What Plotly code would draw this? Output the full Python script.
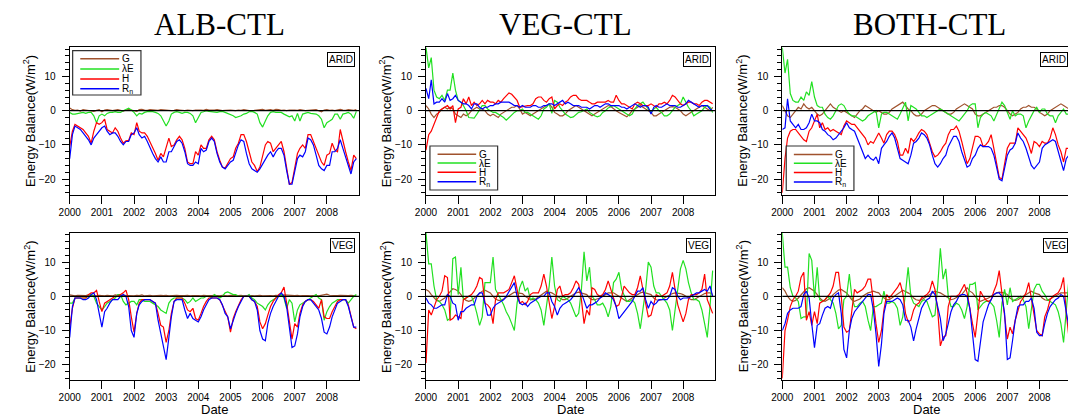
import pandas as pd
import plotly.graph_objects as go

W, H = 1068, 417

dates = pd.date_range("2000-01-01", periods=108, freq="MS")
years = list(range(2000, 2009))
year_labels = [str(y) for y in years]
col_titles = ["ALB-CTL", "VEG-CTL", "BOTH-CTL"]
row_labels = ["ARID", "VEG"]
series_names = ["G", "λE", "H", "R<sub>n</sub>"]
series_colors = ["#A0522D", "#22E022", "#FF0000", "#0000FF"]
y_ticks = [-20, -10, 0, 10]

# ---------------- ALB-CTL, ARID ----------------
alb_arid_G = [0.8, 0.3, 0.1, 0.2, -0.1, 0.3, 0.2, 0.1, 0.0, -0.2, 0.1, 0.3,
              -0.3, 0.2, 0.3, 0.1, 0.0, 0.2, 0.3, 0.1, -0.1, 0.2, 0.4, 0.2,
              0.0, -0.2, 0.3, 0.4, 0.2, 0.1, 0.3, 0.2, 0.0, 0.1, 0.3, 0.2,
              0.1, 0.2, 0.0, 0.1, 0.3, 0.2, 0.1, 0.0, 0.2, 0.1, 0.0, 0.2,
              0.3, 0.2, 0.1, 0.4, 0.2, 0.1, 0.2, 0.3, 0.1, 0.0, 0.1, 0.2,
              0.2, 0.1, 0.0, 0.2, 0.1, 0.3, 0.2, 0.0, -0.1, 0.1, 0.2, 0.3,
              0.4, 0.1, 0.2, 0.3, 0.1, 0.4, 0.3, 0.1, 0.2, 0.0, 0.2, 0.3,
              0.2, 0.1, 0.3, 0.2, 0.0, 0.1, 0.2, 0.1, 0.3, 0.0, -0.3, 0.2,
              0.3, 0.1, 0.2, 0.0, 0.2, 0.4, 0.2, 0.1, 0.3, 0.2, 0.1, 0.3]
alb_arid_LE = [-0.5, -1.0, -1.0, -0.8, -0.5, -0.5, -0.8, -0.5, -0.5, -1.5, -3.5, -1.5,
               -1.0, -1.5, -0.8, -0.5, -0.5, -0.3, -0.5, -0.5, 0.0, 0.3, 0.7, 0.2,
               -0.5, -1.5, -0.8, -1.0, -0.5, -0.3, -0.2, -0.3, -0.5, -0.8, -1.5, -3.0,
               -4.5, -3.0, -1.0, -0.5, -0.3, -0.5, -0.8, -0.5, -0.5, -0.8, -1.5, -3.5,
               -2.0, -0.5, -0.3, 0.0, -0.2, -0.3, -0.3, -0.5, -0.3, -0.2, -0.5, -0.8,
               -1.0, -1.5, -2.0, -1.8, -1.5, -1.0, -0.8, -0.3, -0.2, -0.5, -1.0, -3.5,
               -4.8, -3.0, -1.5, -0.5, -0.3, -0.5, -0.5, -0.5, -1.0, -1.5, -1.8, -1.5,
               -3.0, -0.8, -3.0, -1.0, -0.8, -0.5, -0.8, -1.0, -1.0, -1.5, -2.5, -5.0,
               -3.5, -3.0, -2.5, -1.0, -1.0, -2.5, -1.0, -0.8, -0.5, -1.0, -2.2, -0.2]
alb_arid_H = [-10.5, -6, -4, -4.5, -5, -5.5, -6.5, -7.5, -9.5, -6, -3.5, -4,
              -3.5, -2.5, -5.5, -6, -6.5, -5, -6, -8, -9.5, -8.8, -8.7, -6.5,
              -7, -3.5, -6, -6.5, -6.5, -7.5, -9, -11, -12.5, -14.5, -12.5, -13.5,
              -11, -8, -10.5, -10, -8.5, -7.5, -8.5, -11, -15, -15.5, -15.5, -12,
              -13, -10, -11, -11, -8.5, -7.5, -8.5, -12, -14.5, -16.5, -16.8, -15.5,
              -14, -13.5, -11, -9.5, -7, -7, -9, -12, -15, -16, -17.8, -16.5,
              -13, -10, -9, -9.5, -12, -11, -10, -9, -12, -17, -21.5, -21,
              -17, -12.5, -11, -10, -11, -7, -7, -9, -11, -13, -15, -16,
              -13, -12.5, -9.5, -11.5, -12, -5.5, -9, -12, -15, -17.5, -13, -14]
alb_arid_Rn = [-14, -7, -4.5, -5, -5.5, -6.5, -7.5, -8.5, -10, -8, -7, -6,
               -5, -4.5, -6, -7, -6.5, -6.5, -7.5, -9, -10, -9, -9, -7,
               -6.5, -5, -7, -8, -7.5, -9, -11, -12.5, -14, -15, -13.5, -15,
               -15, -12, -12, -10.5, -9, -8.5, -9.5, -12, -15.5, -16, -16, -15,
               -15.5, -11, -12, -11.5, -9, -8, -9, -12.5, -15, -16.5, -17, -16,
               -15, -14.5, -12, -10, -8.5, -9, -12.5, -15.5, -17, -17.5, -18, -17,
               -15.5, -14, -13, -12, -13.5, -12, -11, -11, -13, -17.5, -21.5, -21.5,
               -18, -14, -13, -13.5, -12, -8, -8.5, -10, -13, -16, -17, -17.5,
               -16, -16, -12, -12, -11, -8.5, -11, -13.5, -16, -18.5, -15, -14]

# ---------------- VEG-CTL, ARID ----------------
veg_arid_G = [1.5, 0.5, -1, -2, -1, -0.5, 0.5, 1, 0.5, 1, 0.5, -1,
              -1.5, -2, -1, -1.5, -1, 0, 0.5, 1, 0.5, 0.5, 0, -1,
              -1.5, -1, -1.5, -2, -1, -0.5, 0, 0.5, 1, 1, 1.5, 0.5,
              -1, -0.5, -1, -1.5, -1, -0.5, 0, 0.5, 1, 1.5, 2, 1,
              -0.5, -1, -1.5, -1.5, -1, 0, 0.5, 1, 1.5, 1, 0.5, 0,
              -0.5, -1, -1.5, -1, -0.5, 0, 0.5, 1, 1.5, 1.2, 0.5, 0,
              -0.5, -1, -1.5, -1.8, -1, 0, 0.5, 1, 1.5, 1, 0.5, 0,
              -0.5, -1.5, -1.5, -1, -0.5, 0, 0.5, 1, 1.2, 1, 0.5, 0,
              -1, -1.5, -1, -0.5, 0, 0.5, 1, 1.5, 1, 0.5, 0, 1]
veg_arid_LE = [18.5, 12.5, 15.5, 6, 4, 3.5, 4.5, 3, 6, 6, 11, 6,
               3, 2.5, 1.5, 0, -2, -2, -2.2, -1, 0.5, 1.5, 1.5, 0.5,
               0, -0.5, -0.5, -1, -1.5, -2, -2.8, -2, -1, -0.5, 0, 0,
               0.5, -0.5, -0.5, -1, -1.5, -2, -2.5, -1.5, 0.5, 1, 2, -0.8,
               3, 2.5, 1, 0, -1, -1.5, -2, -1.8, -1.2, -0.5, -0.3, 0,
               0.5, -0.5, -1, -1.5, -1.8, -1.5, -0.5, 0, 0.8, 1.2, 1.5, 1,
               0.5, 0, -0.5, -1, -1.5, -1, 0.5, 1.5, 2, 2.5, 1.5, 0.5,
               -0.5, 0.5, 1, 0, -0.5, -1.5, -1.5, -1, 0, 1, 1.5, 2,
               4, 2.5, 1, 0, -1.5, -1, -0.5, 0, 1, 1.5, 1, -0.5]
veg_arid_H = [-11.5, -7, -6, -4, -1.5, 0, 0.5, 1, 1.5, 0.5, 1.5, -3.5,
              0.5, 1, 3.5, 2, 4, 1.5, 2.5, 1.5, 2, 3, 2, 3,
              2.5, 2.5, 2, 3, 2.5, 3.5, 4.5, 5.2, 4.8, 4, 3, 1,
              1.2, 1.5, 1.5, 1.5, 2, 3.5, 4, 4, 3, 2.5, 3.5, 4,
              0.5, 1.5, 2, 1.5, 2.5, 3, 4, 4.5, 4.5, 3.5, 3, 3,
              3, 2.5, 2, 2, 2.5, 2.5, 2.5, 2.5, 3, 2.5, 2.5, 4.5,
              3, 2, 2, 1.5, 1, 0.5, 2, 2.5, 2, 1.5, 1.5, 1.5,
              2, 1.5, 1, 2, 2, 2.5, 2, 3, 4.5, 4, 3, 2,
              1.5, 2, 2.5, 2.5, 2, 2, 1.5, 2.5, 3, 3, 2.5, 2]
veg_arid_Rn = [6.5, 3.5, 9, 2, 2.5, 2.5, 3.5, 2.5, 5, 3, 3.5, 4.5,
               3, 2.5, 2, 2, 1.5, 0.5, 2, 2, 1, 0.5, 1, 1,
               1.5, 1.5, 2, 2, 2.5, 2.5, 2.5, 2.5, 2, 1.5, 1.5, 1,
               1.5, 1, 1, 1, 1.5, 1.5, 1, 1, 1.5, 1.5, 2, 2,
               1.5, 2, 2.5, 3, 2, 2.5, 2, 1.5, 1.5, 1.5, 1, 1,
               1, 0.5, 1, 1.5, 1.5, 1, 1.5, 2, 2, 1.5, 1.5, 1.5,
               1.5, 1, 1, 0.5, 1, 1.5, 2, 1.5, 1, 1.5, 1.5, 1,
               -1, 1, 1.5, 1, 1, 1.5, 2, 1.5, 1.5, 1.5, 1, 1,
               1.5, 2, 3, 2.5, 2, 1.5, 1, 1.5, 1.5, 1.5, 0.5, 0]

# ---------------- BOTH-CTL, ARID ----------------
both_arid_G = [1.5, 0, -1.5, -2, -1, 0, 1, 0.5, 2, 1, 0.5, 1,
               0, -1, -1.5, -1, 0, 1, 2, 1, 0.5, 0, -0.5, 0,
               -0.5, -1, -1.5, -2, -1, 0, 0.5, 1.5, 1, 0.5, 0, -0.5,
               0, -0.5, -1, -1, -0.5, 0.5, 1, 1.5, 2, 2.5, 1.5, 0.5,
               0, -1, -1.5, -1.5, -1, 0, 0.5, 1, 1.5, 1.5, 1, 0.5,
               0, -0.5, -1, -1, -0.5, 0.5, 1, 1.5, 2, 1.5, 1, 0.5,
               -1, -1.5, -1.5, -1, -0.5, 0, 0.5, 1, 1, 1.5, 1.5, 1,
               0, -1, -1.5, -1, -0.5, 0.5, 1, 1, 1.5, 1, 1, 0.5,
               -0.5, -1, -1.5, -1, 0, 0.5, 1, 1.5, 2, 1.5, 1, 0.5]
both_arid_LE = [18.5, 11, 15, 5, 3, 2.5, 2.5, 4, 3, 5.5, 4.5, 8.5,
                4, 1.5, 1, 1, -1, -2, -2.5, -1.5, 0, 1.5, 2, 1.5,
                0, -1, -1.5, -1.5, -2, -2.5, -3, -2.5, -1.5, -1, -0.5, 0,
                -5, -1, -0.5, -0.5, -1, -1.5, -2, -2.5, -1, 0.5, 2.5, -3,
                1.5, 1, 0.5, -0.5, -1.5, -1.5, -2, -1.5, -1, -0.5, 0, 0.5,
                0, -0.5, -1, -1.5, -2, -2.5, -3, -2, -1, 0, 1.5, 2,
                2, -5, -2, -1, -0.5, -1, -1.5, -3, -1, 1, 2.5, 1.5,
                -0.5, -2.5, 0, -1.5, -1, -1, -1.5, -5, -3, -1.5, 0, 1,
                -0.5, 0.5, 0.5, -1, -1.5, -1.5, -3.5, -1.5, -0.5, 0.5, -1, -1]
both_arid_H = [-24, -14, -8, -6, -5.5, -5.5, -6.5, -7.5, -8.5, -9, -6, -5,
               -3, -1, -5, -3.5, -5.5, -5, -6, -5.5, -6, -6.5, -7, -4.5,
               -3, -3.5, -4, -4, -5, -6, -7, -8, -10, -9, -9.5, -8,
               -6.5, -8, -9.5, -7, -6, -6, -7, -9, -13, -13, -11, -12.5,
               -8, -9, -8, -6.5, -5.5, -6, -7, -9.5, -12, -13.5, -13, -12,
               -10.5, -9.5, -7, -5.5, -5.5, -4.5, -6, -9, -12.5, -15.5, -14, -11,
               -7.5, -7.5, -8, -10.5, -10, -9, -7, -11, -15, -19.5, -20, -16,
               -11, -9.5, -9.5, -9.5, -5, -6, -7, -8, -10, -12.5, -9, -9.5,
               -10.5, -9, -9.5, -9.5, -8, -5, -7, -10, -12, -15, -11, -11]
both_arid_Rn = [-5.5, -5, 3.5, -3, -4, -5, -4, -5.5, -5.5, -5, -3.5, -1,
                -3, -3, -3.5, -5.5, -6, -7, -7.5, -8.5, -8, -7, -6, -5,
                -3.5, -5, -5.5, -6, -8, -10, -12, -14, -13, -14, -14.5, -13.5,
                -15.5, -11, -10, -9, -7.5, -6.5, -8, -11, -14, -14.5, -15, -15.5,
                -13, -9.5, -9, -8, -6.5, -7, -8, -10, -13, -15.5, -16.5, -15.5,
                -14, -13, -10.5, -9, -7.5, -7.5, -9, -12, -14.5, -16.5, -16, -14,
                -13, -11, -10, -10.5, -10.5, -10.5, -11, -13, -16.5, -20, -20.5, -17,
                -13, -11.5, -11, -9.5, -6.5, -8, -9, -11, -13.5, -16, -17, -16,
                -15, -11, -10, -9.5, -9, -8.5, -9, -12, -15, -17.5, -14, -13]

# ---------------- ALB-CTL, VEG ----------------
alb_veg_G = [0.4, 0.2, 0.1, 0.3, 0.2, 0.1, 0.2, 0.4, 0.3, 0.2, 0.1, 0.3,
             0.2, 0.1, 0.3, 0.2, 0.1, 0.4, 0.2, 0.1, 0.3, 0.2, 0.1, 0.2,
             0.1, 0.3, 0.2, 0.4, 0.1, 0.2, 0.3, 0.1, 0.2, 0.4, 0.3, 0.2,
             0.3, 0.1, 0.2, 0.1, 0.3, 0.2, 0.1, 0.2, 0.3, 0.1, 0.2, 0.3,
             0.2, 0.1, 0.3, 0.2, 0.1, 0.2, 0.3, 0.2, 0.1, 0.3, 0.2, 0.1,
             0.3, 0.2, 0.1, 0.2, 0.3, 0.1, 0.2, 0.3, 0.2, 0.1, 0.2, 0.3,
             0.1, 0.2, 0.3, 0.2, 0.1, 0.3, 0.2, 0.1, 0.4, 0.3, 0.2, 0.1,
             0.2, 0.3, 0.1, 0.2, 0.3, 0.2, 0.1, 0.2, 0.3, 0.1, 0.2, 0.5,
             0.6, 0.3, 0.2, 0.1, 0.2, 0.3, 0.2, 0.1, 0.2, 0.3, 0.2, 0.1]
alb_veg_LE = [-2, -2, -0.5, -0.5, -0.5, -0.5, -0.5, 0, 0.5, 0, -2, -3,
              -4, -3, -2, -1.5, -1, -0.5, 0.5, 0.5, -1.5, -2.5, -2, -1.5,
              -1.5, -2.5, -1, -1, -1.5, -1.5, -1.5, -2, -2.5, -3, -4, -4.5,
              -5, -2, -1, -0.5, -0.5, -0.5, -0.5, -1, -2, -1.5, -0.5, -1.5,
              -1, -0.5, -0.5, 0, 0, -0.5, 0.5, 0, -0.5, 0, 1, 1.3,
              1, 0.5, 0.5, 0, 0, 0, 0, 0.5, -0.5, -1, -2, -2.5,
              -3, -4, -2.5, -1.5, -1, -0.5, 0, 0.5, -0.5, -3.5, -1, -2,
              -7.5, -4, -2.5, -2, -1.5, -1, -0.5, 0, 0.5, -0.5, -1, -7,
              -4.5, -3, -2, -1.5, -1, -1, -1, -1, -2, -1, 0, 0.5]
alb_veg_H = [-9, -3.5, -0.5, -0.5, -0.5, -0.5, -0.5, 0.5, 1, 1, 1.7, -1.5,
             -4.5, -2, -1.5, -1, -0.5, 0, 0, 0.5, 1, 1.8, -1, -6,
             -10.5, -5, -2, -1, -1, -1, -1, -1.5, -2, -5, -8.5, -9,
             -13.5, -10, -5, -1.5, -0.5, -0.5, -0.5, -2, -4, -4.5, -3.5, -6.5,
             -7, -5, -3, -1.5, -0.5, -0.5, -0.5, -0.5, -1, -2.5, -4.5, -6,
             -10.5, -6.5, -4.5, -2.5, -1, 0, 0, 0, -1, -1.5, -3, -7.5,
             -9.5, -8, -5.5, -3, -1.5, -0.5, 0.5, 1, 2.7, -2, -8, -12.5,
             -8, -9, -5, -2.5, -1.5, -1, -1, -1.5, -2.5, -3.5, -1, -6,
             -6.5, -6.5, -4.5, -3, -1.5, -1, -1, -1, -2.5, -6, -9, -9.5]
alb_veg_Rn = [-12, -3, -0.5, -0.5, -0.5, -1, -1, -0.5, 0.5, 1, -1, -5,
              -9, -4.5, -3.5, -2, -1, -1, -1, 0, 0.5, 0, -3, -10,
              -12, -5, -2.5, -1.5, -1, -1, -1, -1.5, -2, -7, -11, -14.5,
              -18.5, -12, -6, -1.5, -1, -1, -1, -4, -6.5, -5, -6.5, -7,
              -7.5, -6, -4, -2.5, -1, -0.5, -0.5, -0.5, -1, -2.5, -5, -6,
              -9.5, -7, -5, -3, -1.5, 0, 0, 0, -1, -1.5, -4, -10,
              -12.5, -13, -8, -5, -3, -1.5, 0, 1, 0, -3, -10, -15,
              -14.5, -11, -6, -3, -1.5, -1, -1, -2, -3, -4, -6.5, -10.5,
              -11, -9, -6, -4, -2, -1.5, -1, -1, -3, -6, -9, -9]

# ---------------- VEG-CTL, VEG ----------------
veg_veg_G = [2, 1.5, 0.5, -0.5, -1.2, -1.5, -1, -0.5, 0.5, 1.5, 2.2, 2,
             1.5, 0.5, -0.5, -1.2, -1.5, -1.2, -0.5, 0.2, 1, 1.5, 1.8, 1.5,
             1, 0, -0.8, -1.2, -1.2, -0.8, -0.3, 0.3, 0.8, 1.2, 1, 1,
             0.8, 0, -0.5, -1, -1, -0.8, -0.2, 0.3, 1, 1.5, 1.2, 1,
             0.5, 0, -0.5, -1, -1, -0.5, 0, 0.5, 1, 1.2, 1, 0.8,
             0.5, -0.5, -1, -1, -0.8, -0.5, 0, 0.5, 1, 1, 1, 0.5,
             0, -0.5, -1.2, -1.5, -1, -0.5, 0, 0.5, 1, 1.2, 1, 0.8,
             0.5, -0.5, -1, -1.2, -1, -0.5, 0, 0.5, 0.8, 1, 1, 0.8,
             0.5, 0, -0.5, -1, -1, -0.5, 0, 0.5, 0.8, 1, 1, 0.5]
veg_veg_LE = [18.5, 9.5, 9.5, 3, -1, -1.5, -2.5, -4, -7, -6.5, 11, 11.5,
              0.5, 8.5, -1, -0.5, 0, 0, -2, -5, -8.5, -6, 4, 4,
              4, 11.5, 2, 0.5, -1, -2.5, -4.5, -6, -8, -10, -2, 2.5,
              4.5, 1.5, 2.5, -1, -0.5, -1, -2, -4, -8.5, -3, 3, 11.5,
              3, -1, -1.5, 0, -0.5, -1, -2, -4, -6, -5, 2, 13,
              4.5, 8.5, 0, -1, -2.5, -2.5, -2, -3.5, -6, -3, 4, 5,
              7, 2, 0.5, -1.5, -1.5, -1, -2, -5, -9.5, -4, 2, 10,
              8.5, 3, 1, 1, 0, -1, -2, -4, -10, -4, 2, 8,
              10.5, 8, 4, 1, -1, -1, -1.5, -4, -8, -12, -3, 7.5]
veg_veg_H = [-19.5, -4, -5.5, -3, -1, 0, 1.5, 6, 5.5, -7, -6.5, -5.5,
             -6, -6.5, -1, -0.5, 0, 0.5, 1.5, 3, 5.5, 5, -2, -2.5,
             -3.5, -8, -1, 1, 1, 1, 1.5, 2, 4, 6, 2, -2,
             -1.5, -2.5, -1.5, 0.5, 1, 1, 1, 3, 6.5, 3, -2, -6.5,
             -3, 2, 3, 0, 0.5, 0.5, 1, 2.5, 4.5, 3.5, -1, -8,
             -4, -5.5, 2.5, 2, 0.5, 0, 0.5, 2, 4.5, 2, -1, -3,
             -2.5, 0, 3, 2, 1, 0.5, 0.5, 2.5, 6, 2, -2.5, -6,
             -5.5, -2, 0.5, 0, 0, 0.5, 1, 3, 7, 2, -2.5, -5,
             -7.5, -5, -1, 0.5, 0.5, 0.5, 1, 2, 6.5, -1, -3, -5]
veg_veg_Rn = [-0.5, -2, -2.5, -3.5, -3.5, -3, -2.5, -2.5, 0.5, 0, -2, -2.5,
              -7, -4.5, -4.5, -3.5, -3, -2.5, -2.5, 0, 1, 1, -2, -5.5,
              -5.5, -3.5, -2.5, -2, -1.5, -1, 0, 1.5, 3, 4, 0, -2,
              -2.5, -2, -3, -2, -1.5, -1, -0.5, 0, 0, 1, 1, -1.5,
              -3, -5.5, -3.5, -2.5, -2, -1.5, -1, 0, 1.5, 2.5, 1, -1,
              -3.5, -2.5, -2.5, -2, -1.5, -0.5, 0, 1, 0.5, 0, -1, -3,
              -6.5, -5.5, -4.5, -3.5, -2.5, -1.5, 0, 1.5, 1.5, 2.5, -1, -3.5,
              -1.5, -2.5, -2, -1, -1, -1, -1, 0, 2.5, 2, 0, -1,
              -0.5, -0.5, -0.5, 0, 0.5, 1, 1, 1.5, 2, 1.5, 3, 0]

# ---------------- BOTH-CTL, VEG ----------------
both_veg_G = [2.5, 1.5, 0, -1, -1.5, -1.2, -0.5, 0.5, 1.5, 2.2, 2.5, 2,
              1.5, 0.5, -0.5, -1.2, -1.5, -1, -0.5, 0.5, 1.2, 1.8, 2, 1.5,
              1, 0, -1, -1.5, -1.2, -0.8, 0, 0.5, 1, 1.2, 1.5, 1.2,
              1, 0, -0.5, -1, -1, -0.5, 0, 0.5, 1.2, 1.8, 1.5, 1,
              0.5, -0.5, -1, -1.2, -1, -0.5, 0, 0.5, 1, 1.5, 1.2, 1,
              0.5, 0, -0.5, -1, -0.8, -0.5, 0, 0.5, 1.5, 2.5, 1.5, 1,
              0, -1, -1.5, -1.2, -1, -0.5, 0, 0.5, 1, 1.2, 1, 1,
              0.5, -0.5, -1, -1.2, -1, -0.5, 0, 0.5, 1, 1.5, 1, 0.8,
              0.5, -0.5, -1, -1.2, -0.8, -0.5, 0, 0.5, 1, 1, 0.8, 1]
both_veg_LE = [18.5, 8.5, 8.5, 2.5, 0, -0.5, -1.5, -6.5, -6, -6, 12.5, 10.5,
               -0.5, 8.5, -1, -1.5, -1, 0, -1, -2, -5, -9.5, -8.5, -1,
               0, 6.5, 0, -3, -3, -2, -1.5, -3, -7, -10, -3, -3,
               -2.5, -2, 1.5, -2, -2, -1.5, -2, -3.5, -8.5, -6, 1, 8.5,
               0, -2, -2.5, -3, -1.5, -1, -1.5, -4, -6, -5.5, 3, 14,
               5, 8, 0, -3, -3, -2, -2.5, -4, -6.5, -3, 3.5, 3.5,
               4, -4, -3, -2, -1.5, -1.5, -2, -3, -7, -12, -2, 2,
               -2.5, 2.5, -1.5, -1, -0.5, 0, -1, -3, -9.5, -4, 2, 3.5,
               3.5, 1.5, 0.5, -1, -1.5, -2, -2.5, -4.5, -8, -13.5, -3, 5]
both_veg_H = [-24, -10, -7, -3, -1, 0, 1.5, 5.5, 7, -7, -4.5, -8.5,
              -4.5, -8, -2, -1.5, -1, 0, 1, 3, 7, 7, 0, -9,
              -10.5, -10, -5, 2, 1, 1.5, 2, 3, 5, 5, -2, -8,
              -13.5, -10, -4, 0.5, -0.5, 0.5, 1.5, 2.5, 4, 1, -5, -7.5,
              -7, -4, -2.5, -2, -0.5, 0, 0.5, 1.5, 4.5, 2, -4, -14.5,
              -12, -11.5, -3, 0, 0, 0, 0.5, 2, 3.5, 1, -4, -8,
              -12, -4, 1.5, 0, -1, -1.5, -1, 1.5, 3.5, 7.5, 1, -5,
              -12.5, -9, -11, -7, -4, -1.5, -0.5, 1, 4, -1, -6, -10,
              -11, -11.5, -6, -4, -1, 0, 0.5, 1, 2.5, 5.5, -5, -12]
both_veg_Rn = [-10, -8, -5, -4, -3.5, -3.5, -3.5, -3, 0.5, 1.5, -0.5, -8,
               -15, -8.5, -8, -5.5, -3.5, -3, -3.5, -0.5, 0.5, 1, -5, -15.5,
               -18, -10, -6.5, -4.5, -3.5, -2.5, -1.5, -0.5, 0.5, 0.5, -4, -11,
               -20.5, -14, -5, -1.5, -1.5, -1.5, -1, -0.5, -1, -2.5, -7, -7,
               -9, -13, -9.5, -6, -3.5, -2, -1, -0.5, 1.5, 0.5, -3, -6.5,
               -13, -11, -8, -4.5, -2.5, -1.5, 0, 0.5, 0.5, 0, -3.5, -11,
               -18.5, -19, -14, -7.5, -5, -2.5, -1, 0.5, 1, 1, 0, -5,
               -18.5, -18, -13, -7, -3, -2.5, -2.5, -1.5, -1.5, -0.5, -3.5, -10.5,
               -11.5, -11.5, -8, -5, -3, -2, -1, -0.5, 0.5, 0, -5, -9]

panels = [
    [[alb_arid_G, alb_arid_LE, alb_arid_H, alb_arid_Rn],
     [veg_arid_G, veg_arid_LE, veg_arid_H, veg_arid_Rn],
     [both_arid_G, both_arid_LE, both_arid_H, both_arid_Rn]],
    [[alb_veg_G, alb_veg_LE, alb_veg_H, alb_veg_Rn],
     [veg_veg_G, veg_veg_LE, veg_veg_H, veg_veg_Rn],
     [both_veg_G, both_veg_LE, both_veg_H, both_veg_Rn]],
]

# ---------------- geometry (pixels) ----------------
col_left = [59.3, 419.3, 779.3]
plot_w = 292.4
row_top = [47.4, 233.0]
row_bot = [194.5, 380.1]
t_start = pd.Timestamp("2000-01-01")
t_stop = pd.Timestamp("2009-01-01")


def px(x):
    return x / W


def py(y):
    return 1 - y / H


fig = go.Figure()
layout = dict(width=W, height=H, margin=dict(l=0, r=0, t=0, b=0),
              paper_bgcolor="white", plot_bgcolor="white", showlegend=False,
              font=dict(family="Liberation Sans, Arial, sans-serif", color="black"))
shapes = []
annotations = []

for r in range(2):
    for c in range(3):
        k = r * 3 + c + 1
        sfx = "" if k == 1 else str(k)
        x0 = col_left[c]
        x1 = min(x0 + plot_w, W)
        frac = (x1 - x0) / plot_w
        t_end = t_start + (t_stop - t_start) * frac
        layout["xaxis" + sfx] = dict(
            domain=[px(x0), px(x1)], anchor="y" + sfx, type="date",
            range=[t_start, t_end],
            tickvals=[pd.Timestamp(f"{y}-01-01") for y in years], ticktext=year_labels,
            ticks="outside", ticklen=8, tickwidth=1, tickcolor="black",
            showline=True, linecolor="black", linewidth=1, mirror=True,
            showgrid=False, zeroline=False, tickfont=dict(size=10),
            ticklabelstandoff=0)
        layout["yaxis" + sfx] = dict(
            domain=[py(row_bot[r]), py(row_top[r])], anchor="x" + sfx,
            range=[-24.5, 18.5], tickvals=y_ticks,
            ticks="outside", ticklen=7, tickwidth=1, tickcolor="black",
            minor=dict(dtick=2, tick0=0, ticks="outside", ticklen=4,
                       tickcolor="black", showgrid=False),
            showline=True, linecolor="black", linewidth=1, mirror=(c < 2),
            showgrid=False, zeroline=False, tickfont=dict(size=10),
            ticklabelstandoff=4)
        for vals, col in zip(panels[r][c], series_colors):
            fig.add_trace(go.Scatter(x=dates, y=vals, mode="lines",
                                     line=dict(color=col, width=1.2),
                                     xaxis="x" + sfx, yaxis="y" + sfx,
                                     hoverinfo="skip"))
        # zero reference line
        shapes.append(dict(type="line", xref="x" + sfx + " domain", yref="y" + sfx,
                           x0=0, x1=1, y0=0, y1=0,
                           line=dict(color="black", width=1.2)))
        # region label box
        annotations.append(dict(
            text=row_labels[r], xref="paper", yref="paper",
            x=px(col_left[c] + plot_w - 4), y=py(row_top[r] + 5),
            xanchor="right", yanchor="top", showarrow=False,
            font=dict(size=10), bordercolor="black", borderwidth=1,
            borderpad=1, bgcolor="white"))
        # y-axis title
        annotations.append(dict(
            text="Energy Balance(W/m<sup>2</sup>)", xref="paper", yref="paper",
            x=px(col_left[c] - 41), y=py((row_top[r] + row_bot[r]) / 2),
            xanchor="center", yanchor="middle", textangle=-90, showarrow=False,
            font=dict(size=13)))
        if r == 1:
            annotations.append(dict(
                text="Date", xref="paper", yref="paper",
                x=px(col_left[c] + plot_w / 2), y=py(418),
                xanchor="center", yanchor="bottom", showarrow=False,
                font=dict(size=13), borderpad=0))

# column titles
title_cx = [211, 560, 928]
for c in range(3):
    annotations.append(dict(
        text=col_titles[c], xref="paper", yref="paper",
        x=px(title_cx[c]), y=py(25), xanchor="center", yanchor="middle",
        showarrow=False, font=dict(family="Liberation Serif, Times New Roman, serif", size=31)))

# legends (row 1 panels): box, line samples, labels
legend_specs = [
    dict(box=(62.3, 50.7, 131.3, 95.0), lx=(70, 109.3), rows=[58.7, 69.0, 79.0, 88.7]),
    dict(box=(423.3, 146.0, 491.7, 190.0), lx=(431, 470), rows=[154.3, 163.0, 172.3, 181.8]),
    dict(box=(783.3, 146.0, 851.7, 190.5), lx=(791, 830), rows=[154.5, 163.2, 172.5, 182.0]),
]
for spec in legend_specs:
    bx0, by0, bx1, by1 = spec["box"]
    shapes.append(dict(type="rect", xref="paper", yref="paper",
                       x0=px(bx0), x1=px(bx1), y0=py(by1), y1=py(by0),
                       line=dict(color="#333333", width=1.2), fillcolor="white",
                       layer="above"))
    for name, col, ry in zip(series_names, series_colors, spec["rows"]):
        shapes.append(dict(type="line", xref="paper", yref="paper",
                           x0=px(spec["lx"][0]), x1=px(spec["lx"][1]),
                           y0=py(ry), y1=py(ry), line=dict(color=col, width=1.5),
                           layer="above"))
        annotations.append(dict(
            text=name, xref="paper", yref="paper",
            x=px(spec["lx"][1] + 0.5), y=py(ry), xanchor="left", yanchor="middle",
            showarrow=False, font=dict(size=10)))

layout["shapes"] = shapes
layout["annotations"] = annotations
fig.update_layout(**layout)
fig.write_html("out.html")
